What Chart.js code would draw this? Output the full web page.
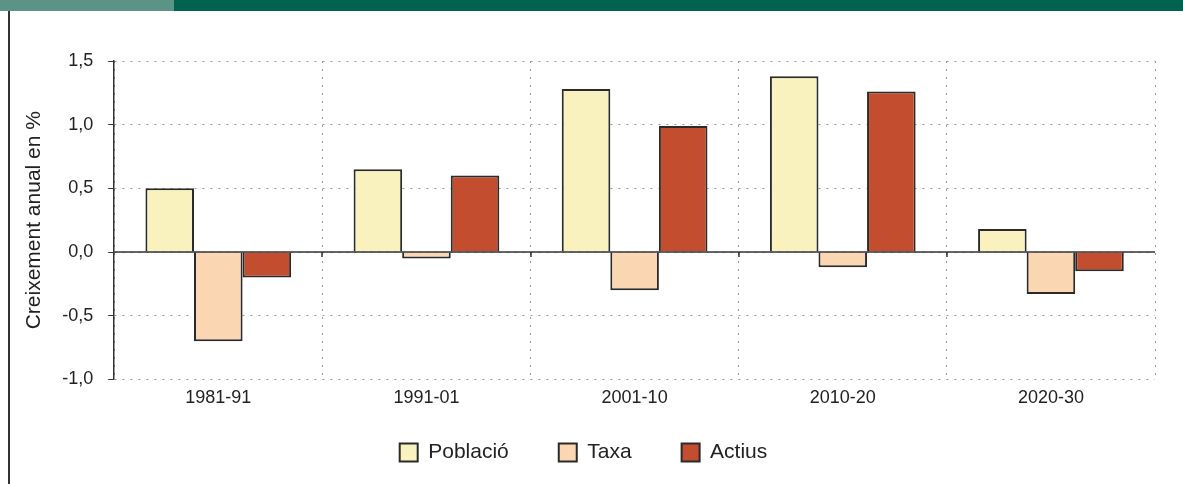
<!DOCTYPE html>
<html>
<head>
<meta charset="utf-8">
<script src="https://cdn.jsdelivr.net/npm/chart.js@4"></script>
<style>
  body { margin: 0; background: #fff; width: 1183px; height: 484px; overflow: hidden; position: relative; }
  #barLeft { position: absolute; left: 0; top: 0; width: 174px; height: 11px; background: #5b9487; }
  #barRight { position: absolute; left: 174px; top: 0; width: 1009px; height: 11px; background: #00634f; }
  #sideLine { position: absolute; left: 8px; top: 11px; width: 2px; height: 473px; background: #333; }
  #wrap { position: absolute; left: 12px; top: 11px; width: 1171px; height: 473px; }
</style>
</head>
<body>
<div id="barLeft"></div>
<div id="barRight"></div>
<div id="sideLine"></div>
<div id="wrap"><canvas id="myChart"></canvas></div>
<script>
// Chart data
const periods = ["1981-91", "1991-01", "2001-10", "2010-20", "2020-30"];
const poblacio = [0.50, 0.65, 1.28, 1.38, 0.18];
const taxa = [-0.70, -0.05, -0.30, -0.12, -0.33];
const actius = [-0.20, 0.60, 0.99, 1.26, -0.15];

// solid zero line + small ticks at category boundaries
const zeroLine = {
    id: "zeroLine",
    afterDatasetsDraw(chart) {
        const { ctx, chartArea, scales } = chart;
        const y0 = scales.y.getPixelForValue(0);
        ctx.save();
        ctx.strokeStyle = "#333";
        ctx.lineWidth = 1.5;
        ctx.beginPath();
        ctx.moveTo(chartArea.left, y0);
        ctx.lineTo(chartArea.right, y0);
        const step = (chartArea.right - chartArea.left) / periods.length;
        for (let i = 1; i < periods.length; i++) {
            const x = Math.round(chartArea.left + step * i);
            ctx.moveTo(x, y0);
            ctx.lineTo(x, y0 + 5);
        }
        ctx.stroke();
        ctx.restore();
    }
};

// wide gaps between legend items without the legend eating plot height
const LEGEND_TRIM = 25;
const legendGap = {
    id: "legendGap",
    beforeLayout(chart) {
        const lg = chart.legend;
        if (lg && !lg._trimmed) {
            const fit = lg.fit;
            lg.fit = function () { fit.call(this); this.height -= LEGEND_TRIM; };
            lg._trimmed = true;
        }
    },
    afterLayout(chart) {
        if (chart.legend) chart.legend.top -= LEGEND_TRIM;
    }
};

const ctx = document.getElementById("myChart").getContext("2d");
const myChart = new Chart(ctx, {
    type: "bar",
    data: {
        labels: periods,
        datasets: [
            { label: "Població", data: poblacio, backgroundColor: "#faf2be", borderColor: "#2a2a2a", borderWidth: 2 },
            { label: "Taxa", data: taxa, backgroundColor: "#fad6b2", borderColor: "#2a2a2a", borderWidth: 2 },
            { label: "Actius", data: actius, backgroundColor: "#c24d2f", borderColor: "#2a2a2a", borderWidth: 2 },
        ],
    },
    options: {
        responsive: true,
        maintainAspectRatio: false,
        animation: false,
        categoryPercentage: 0.70,
        barPercentage: 1.0,
        layout: { padding: { top: 50, right: 28, bottom: 11, left: 0 } },
        plugins: {
            tooltip: { enabled: false },
            legend: {
                position: "bottom",
                labels: {
                    boxWidth: 18,
                    boxHeight: 18,
                    padding: 50,
                    color: "#222",
                    font: { family: "Liberation Sans", size: 21 },
                },
            },
        },
        scales: {
            x: {
                grid: { offset: true, color: "#999", drawTicks: false },
                border: { display: false, dash: [2, 6] },
                ticks: { color: "#222", padding: 8, font: { family: "Liberation Sans", size: 18 } },
            },
            y: {
                min: -1.0,
                max: 1.5,
                grid: { color: "#999", tickColor: "#333", tickLength: 6 },
                border: { color: "#333", width: 1.5, dash: [2, 6] },
                ticks: {
                    stepSize: 0.5,
                    padding: 15,
                    color: "#222",
                    font: { family: "Liberation Sans", size: 18 },
                    callback: (v) => v.toFixed(1).replace(".", ","),
                },
                title: {
                    display: true,
                    text: "Creixement anual en %",
                    color: "#222",
                    font: { family: "Liberation Sans", size: 21 },
                    padding: { top: 10, bottom: 0 },
                },
            },
        },
    },
    plugins: [zeroLine, legendGap],
});
</script>
</body>
</html>
